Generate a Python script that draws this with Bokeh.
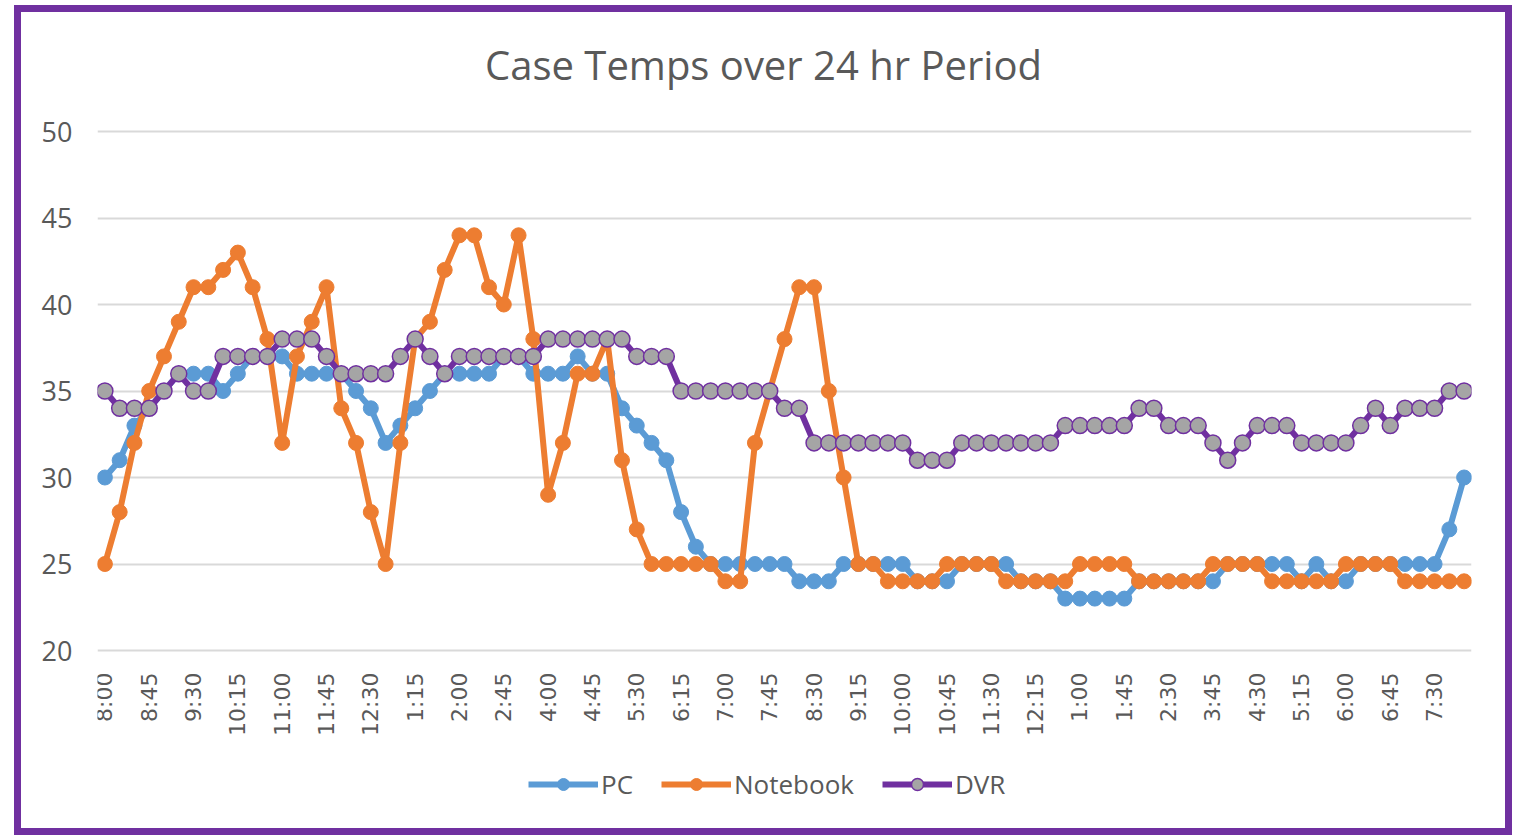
import math
from bokeh.plotting import figure
from bokeh.models import (ColumnDataSource, Range1d, FixedTicker, Legend, LegendItem)
from bokeh.core.properties import value
from bokeh.embed import file_html
from bokeh.resources import INLINE

times = ["8:00", "8:15", "8:30", "8:45", "9:00", "9:15", "9:30", "9:45", "10:00", "10:15",
         "10:30", "10:45", "11:00", "11:15", "11:30", "11:45", "12:00", "12:15", "12:30", "12:45",
         "1:00", "1:15", "1:30", "1:45", "2:00", "2:15", "2:30", "2:45", "3:00", "3:30",
         "4:00", "4:15", "4:30", "4:45", "5:00", "5:15", "5:30", "5:45", "6:00", "6:15",
         "6:30", "6:45", "7:00", "7:15", "7:30", "7:45", "8:00", "8:15", "8:30", "8:45",
         "9:00", "9:15", "9:30", "9:45", "10:00", "10:15", "10:30", "10:45", "11:00", "11:15",
         "11:30", "11:45", "12:00", "12:15", "12:30", "12:45", "1:00", "1:15", "1:30", "1:45",
         "2:00", "2:15", "2:30", "2:45", "3:15", "3:45", "4:00", "4:15", "4:30", "4:45",
         "5:00", "5:15", "5:30", "5:45", "6:00", "6:15", "6:30", "6:45", "7:00", "7:15",
         "7:30", "7:45", "8:00"]

pc = [30, 31, 33, 34, 35, 36, 36, 36, 35, 36,
      37, 37, 37, 36, 36, 36, 36, 35, 34, 32,
      33, 34, 35, 36, 36, 36, 36, 37, 37, 36,
      36, 36, 37, 36, 36, 34, 33, 32, 31, 28,
      26, 25, 25, 25, 25, 25, 25, 24, 24, 24,
      25, 25, 25, 25, 25, 24, 24, 24, 25, 25,
      25, 25, 24, 24, 24, 23, 23, 23, 23, 23,
      24, 24, 24, 24, 24, 24, 25, 25, 25, 25,
      25, 24, 25, 24, 24, 25, 25, 25, 25, 25,
      25, 27, 30]

notebook = [25, 28, 32, 35, 37, 39, 41, 41, 42, 43,
            41, 38, 32, 37, 39, 41, 34, 32, 28, 25,
            32, 38, 39, 42, 44, 44, 41, 40, 44, 38,
            29, 32, 36, 36, 38, 31, 27, 25, 25, 25,
            25, 25, 24, 24, 32, 35, 38, 41, 41, 35,
            30, 25, 25, 24, 24, 24, 24, 25, 25, 25,
            25, 24, 24, 24, 24, 24, 25, 25, 25, 25,
            24, 24, 24, 24, 24, 25, 25, 25, 25, 24,
            24, 24, 24, 24, 25, 25, 25, 25, 24, 24,
            24, 24, 24]

dvr = [35, 34, 34, 34, 35, 36, 35, 35, 37, 37,
       37, 37, 38, 38, 38, 37, 36, 36, 36, 36,
       37, 38, 37, 36, 37, 37, 37, 37, 37, 37,
       38, 38, 38, 38, 38, 38, 37, 37, 37, 35,
       35, 35, 35, 35, 35, 35, 34, 34, 32, 32,
       32, 32, 32, 32, 32, 31, 31, 31, 32, 32,
       32, 32, 32, 32, 32, 33, 33, 33, 33, 33,
       34, 34, 33, 33, 33, 32, 31, 32, 33, 33,
       33, 32, 32, 32, 32, 33, 34, 33, 34, 34,
       34, 35, 35]

y_ticks = [20, 25, 30, 35, 40, 45, 50]
title_text = "Case Temps over 24 hr Period"

x = list(range(len(times)))
tick_idx = x[::3]
tick_labels = [times[i] for i in tick_idx]

src = ColumnDataSource(dict(x=x, pc=pc, nb=notebook, dvr=dvr))

# canvas geometry (inside the purple chart border)
W, H = 1484, 816
PX_PER_UNIT = 17.3          # vertical pixels per degree
TOP_PAD_PX = 119            # canvas top -> value 50
BOTTOM_PAD_PX = 178         # value 20 -> canvas bottom
y_lo = y_ticks[0] - BOTTOM_PAD_PX / PX_PER_UNIT
y_hi = y_ticks[-1] + TOP_PAD_PX / PX_PER_UNIT

p = figure(width=W, height=H, output_backend="svg", toolbar_location=None,
           x_range=Range1d(-0.5, len(times) - 0.5), y_range=Range1d(y_lo, y_hi),
           min_border_left=76, min_border_right=34, min_border_top=0, min_border_bottom=0)
p.styles = {"margin-left": "21px", "margin-top": "12px",
            "outline": "7px solid #7030A0", "outline-offset": "0px"}
p.outline_line_color = None
p.background_fill_color = "white"
p.border_fill_color = "white"

# y axis
p.yaxis.ticker = FixedTicker(ticks=y_ticks)
p.yaxis.axis_line_color = None
p.yaxis.major_tick_line_color = None
p.yaxis.minor_tick_line_color = None
p.yaxis.major_tick_out = 0
p.yaxis.major_label_standoff = 25
p.yaxis.major_label_text_font = "Open Sans"
p.yaxis.major_label_text_font_size = "27px"
p.yaxis.major_label_text_color = "#595959"

# x axis: drawn as rotated labels under the 20 gridline
p.xaxis.visible = False
p.xgrid.grid_line_color = None
p.ygrid.grid_line_color = "#D9D9D9"
p.ygrid.grid_line_width = 2

p.text(x=tick_idx, y=[y_ticks[0]] * len(tick_idx), text=tick_labels,
       angle=math.pi / 2, text_align="right", text_baseline="middle",
       y_offset=22, text_font=value("DejaVu Sans"), text_font_size="22px",
       text_color="#595959")

# title
p.text(x=[(len(times) - 1) / 2], y=[y_ticks[-1]], text=[title_text],
       x_offset=-21, y_offset=-67, text_align="center", text_baseline="middle",
       text_font=value("Open Sans"), text_font_size="40px", text_color="#595959")

BLUE, ORANGE, PURPLE, GRAY = "#5B9BD5", "#ED7D31", "#7030A0", "#A5A5A5"

l1 = p.line("x", "pc", source=src, line_color=BLUE, line_width=6, line_join="round")
s1 = p.scatter("x", "pc", source=src, size=15, fill_color=BLUE, line_color=BLUE)
l2 = p.line("x", "nb", source=src, line_color=ORANGE, line_width=6, line_join="round")
s2 = p.scatter("x", "nb", source=src, size=15, fill_color=ORANGE, line_color=ORANGE)
l3 = p.line("x", "dvr", source=src, line_color=PURPLE, line_width=6, line_join="round")
s3 = p.scatter("x", "dvr", source=src, size=16, fill_color=GRAY, line_color=PURPLE, line_width=1.5)

legend = Legend(items=[LegendItem(label="PC", renderers=[l1, s1]),
                       LegendItem(label="Notebook", renderers=[l2, s2]),
                       LegendItem(label="DVR", renderers=[l3, s3])],
                orientation="horizontal", location=(431, 26),
                glyph_width=70, glyph_height=30, label_standoff=3, spacing=28,
                padding=0, margin=0,
                label_text_font="Open Sans", label_text_font_size="26px",
                label_text_color="#595959",
                border_line_color=None, background_fill_alpha=0)
p.add_layout(legend, "center")

open("out.html", "w").write(file_html(p, INLINE))
